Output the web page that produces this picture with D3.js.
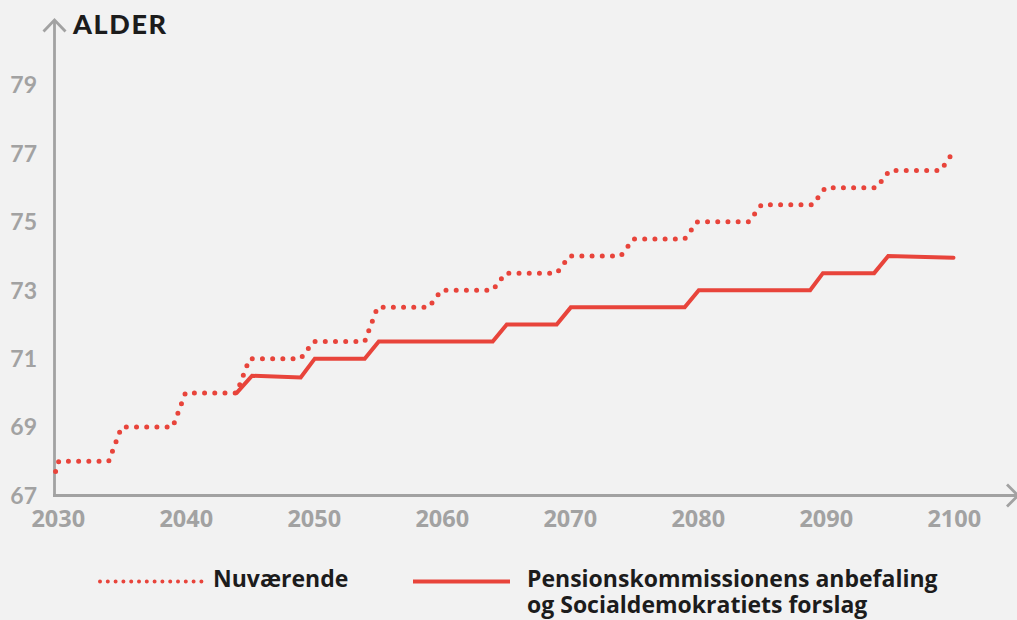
<!DOCTYPE html>
<html>
<head>
<meta charset="utf-8">
<script src="https://cdn.jsdelivr.net/npm/d3@7"></script>
<style>
    html, body { margin: 0; padding: 0; background: #f2f2f2; }
    svg { display: block; }
    .tick-y { font-family: Lato, sans-serif; font-weight: 700; font-size: 23px; fill: #a2a2a2; }
    .tick-x { font-family: "Open Sans", sans-serif; font-weight: 700; font-size: 23.5px; fill: #a2a2a2; }
    .legend-text { font-family: "Open Sans", sans-serif; font-weight: 700; font-size: 23px; fill: #1c1c1c; }
</style>
</head>
<body>
<svg id="chart" width="1017" height="620"></svg>
<script>
// Nuværende (current rule)
var currentYears = [2029.85, 2030.1, 2034, 2035, 2039, 2040, 2044, 2045, 2049, 2050, 2054, 2055, 2059, 2060,
                    2064, 2065, 2069, 2070, 2074, 2075, 2079, 2080, 2084, 2085, 2089, 2090, 2094, 2095, 2099, 2100];
var currentAges  = [67.7, 68, 68, 69, 69, 70, 70, 71, 71, 71.5, 71.5, 72.5, 72.5, 73,
                    73, 73.5, 73.5, 74, 74, 74.5, 74.5, 75, 75, 75.5, 75.5, 76, 76, 76.5, 76.5, 77.05];

// Pensionskommissionens anbefaling / Socialdemokratiets forslag
var proposalYears = [2044, 2045.2, 2049, 2050.1, 2054, 2055.1, 2064, 2065.1, 2069, 2070.1, 2079, 2080.1,
                     2088.8, 2089.8, 2093.8, 2094.9, 2100];
var proposalAges  = [70, 70.5, 70.45, 71, 71, 71.5, 71.5, 72, 72, 72.5, 72.5, 73,
                     73, 73.5, 73.5, 74, 73.95];

var xTicks = [2030, 2040, 2050, 2060, 2070, 2080, 2090, 2100];
var yTicks = [67, 69, 71, 73, 75, 77, 79];

var legendLabels = ["Nuværende", ["Pensionskommissionens anbefaling", "og Socialdemokratiets forslag"]];

var red = "#e8443b",
    axisGrey = "#a2a2a2";

var svg = d3.select("#chart");

svg.append("rect")
   .attr("width", 1017)
   .attr("height", 620)
   .attr("fill", "#f2f2f2");

var x = d3.scaleLinear().domain([2030, 2100]).range([57.5, 953.5]),
    y = d3.scaleLinear().domain([67, 79]).range([495.5, 85]);

// axes with arrow heads
var axes = svg.append("g")
              .attr("fill", "none")
              .attr("stroke", axisGrey)
              .attr("stroke-width", 2.8);
axes.append("path")
    .attr("d", "M54.5,497 L54.5,20");
axes.append("path")
    .attr("d", "M43.5,31.5 L54.5,20 L65.5,31.5");
axes.append("path")
    .attr("d", "M53,495.5 L1018,495.5");
axes.append("path")
    .attr("d", "M1007,484.5 L1018,495.5 L1007,506.5");

svg.append("g")
   .selectAll("text")
   .data(yTicks)
   .enter().append("text")
           .attr("class", "tick-y")
           .attr("x", 37)
           .attr("y", function(d) { return y(d); })
           .attr("dy", "0.36em")
           .attr("text-anchor", "end")
           .text(function(d) { return d; });

svg.append("g")
   .selectAll("text")
   .data(xTicks)
   .enter().append("text")
           .attr("class", "tick-x")
           .attr("x", function(d) { return x(d) + 0.8; })
           .attr("y", 527)
           .attr("text-anchor", "middle")
           .text(function(d) { return d; });

svg.append("text")
   .attr("x", 73)
   .attr("y", 34)
   .attr("font-family", "Lato, sans-serif")
   .attr("font-weight", 900)
   .attr("font-size", 27)
   .attr("letter-spacing", 1.6)
   .attr("fill", "#1c1c1c")
   .text("ALDER");

function toPoints(years, ages) {
    return years.map(function(yr, i) { return [yr, ages[i]]; });
}

var line = d3.line()
             .x(function(d) { return x(d[0]); })
             .y(function(d) { return y(d[1]); });

svg.append("path")
   .datum(toPoints(proposalYears, proposalAges))
   .attr("d", line)
   .attr("fill", "none")
   .attr("stroke", red)
   .attr("stroke-width", 4)
   .attr("stroke-linejoin", "miter")
   .attr("stroke-linecap", "round");

svg.append("path")
   .datum(toPoints(currentYears, currentAges))
   .attr("d", line)
   .attr("fill", "none")
   .attr("stroke", red)
   .attr("stroke-width", 5)
   .attr("stroke-dasharray", "0 10.2")
   .attr("stroke-linecap", "round");

// legend
var legend = svg.append("g");
legend.append("line")
      .attr("x1", 100).attr("x2", 202)
      .attr("y1", 581.5).attr("y2", 581.5)
      .attr("stroke", red)
      .attr("stroke-width", 4)
      .attr("stroke-dasharray", "0 7.8")
      .attr("stroke-linecap", "round");
legend.append("text")
      .attr("class", "legend-text")
      .attr("x", 213)
      .attr("y", 587)
      .text(legendLabels[0]);

legend.append("line")
      .attr("x1", 413).attr("x2", 510)
      .attr("y1", 581.5).attr("y2", 581.5)
      .attr("stroke", red)
      .attr("stroke-width", 4);
legend.append("text")
      .attr("class", "legend-text")
      .selectAll("tspan")
      .data(legendLabels[1])
      .enter().append("tspan")
              .attr("x", 527)
              .attr("y", function(d, i) { return 587 + i * 26; })
              .text(function(d) { return d; });
</script>
</body>
</html>
